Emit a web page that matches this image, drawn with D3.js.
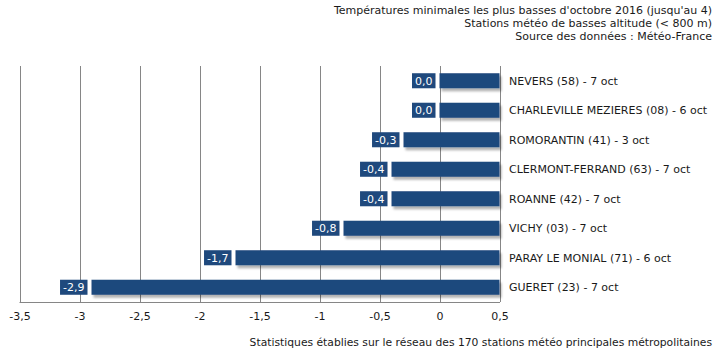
<!DOCTYPE html>
<html>
<head>
<meta charset="utf-8">
<script src="https://cdn.jsdelivr.net/npm/d3@7"></script>
<style>
  body { margin: 0; background: #fff; }
  text { font-family: "DejaVu Sans", Verdana, sans-serif; }
</style>
</head>
<body>
<script>
// stations, ordered top to bottom
var stations = ["NEVERS (58) - 7 oct", "CHARLEVILLE MEZIERES (08) - 6 oct", "ROMORANTIN (41) - 3 oct",
  "CLERMONT-FERRAND (63) - 7 oct", "ROANNE (42) - 7 oct", "VICHY (03) - 7 oct",
  "PARAY LE MONIAL (71) - 6 oct", "GUERET (23) - 7 oct"];
var minTemps = [0.0, 0.0, -0.3, -0.4, -0.4, -0.8, -1.7, -2.9];
var xTicks = [-3.5, -3, -2.5, -2, -1.5, -1, -0.5, 0, 0.5];
var titleLines = ["Températures minimales les plus basses d'octobre 2016 (jusqu'au 4)",
  "Stations météo de basses altitude (< 800 m)", "Source des données : Météo-France"];
var footnote = "Statistiques établies sur le réseau des 170 stations météo principales métropolitaines";

var width = 715, height = 359;
var plot = {left: 19.5, right: 499.5, top: 66, bottom: 302};
var barColor = "#1f497d";

var fmt = function(v) { return (v % 1 === 0 ? String(v) : v.toFixed(1)).replace(".", ","); };
var fmtLabel = function(v) { return v.toFixed(1).replace(".", ","); };

var x = d3.scaleLinear().domain([-3.5, 0.5]).range([plot.left, plot.right]);
var y = d3.scaleBand().domain(stations).range([plot.top, plot.bottom]).paddingInner(0.49).paddingOuter(0.245);

var svg = d3.select("body").append("svg")
    .attr("width", width)
    .attr("height", height);

var defs = svg.append("defs");
var f = defs.append("filter").attr("id", "shadow")
    .attr("x", "-5%").attr("y", "-20%").attr("width", "115%").attr("height", "160%");
f.append("feDropShadow").attr("dx", 2).attr("dy", 3).attr("stdDeviation", 1.2)
    .attr("flood-color", "#000").attr("flood-opacity", 0.3);

// title
svg.append("g").selectAll("text")
    .data(titleLines)
    .enter().append("text")
    .attr("x", 712)
    .attr("y", function(d, i) { return 14 + i * 13; })
    .attr("text-anchor", "end")
    .attr("font-size", 11)
    .attr("fill", "#1a1a1a")
    .text(function(d) { return d; });

// grid lines
svg.append("g").selectAll("line")
    .data(xTicks)
    .enter().append("line")
    .attr("x1", function(d) { return Math.round(x(d)) + 0.5; })
    .attr("x2", function(d) { return Math.round(x(d)) + 0.5; })
    .attr("y1", plot.top)
    .attr("y2", plot.bottom)
    .attr("stroke", "#868686")
    .attr("stroke-width", 1);

// bottom axis
var xAxis = svg.append("g")
    .attr("transform", "translate(0," + (plot.bottom + 0.5) + ")")
    .call(d3.axisBottom(x).tickValues(xTicks).tickSize(0).tickPadding(10).tickFormat(fmt));
xAxis.select(".domain").attr("stroke", "#868686").attr("d", "M" + x(-3.5) + ",0H" + (x(0.5) + 0.5));
xAxis.selectAll("text")
    .attr("font-family", "DejaVu Sans, Verdana, sans-serif")
    .attr("font-size", 11)
    .attr("fill", "#1a1a1a");

// bars, from 0.5 down to the value
svg.append("g").selectAll("rect")
    .data(minTemps)
    .enter().append("rect")
    .attr("x", function(d) { return x(d); })
    .attr("y", function(d, i) { return y(stations[i]); })
    .attr("width", function(d) { return x(0.5) - x(d); })
    .attr("height", y.bandwidth())
    .attr("fill", barColor)
    .attr("filter", "url(#shadow)");

// value labels
var lab = svg.append("g").selectAll("g")
    .data(minTemps)
    .enter().append("g");
lab.append("text")
    .attr("x", function(d) { return x(d) - 7; })
    .attr("y", function(d, i) { return y(stations[i]) + y.bandwidth() / 2; })
    .attr("dy", "0.36em")
    .attr("text-anchor", "end")
    .attr("font-size", 11)
    .attr("fill", "#fff")
    .text(fmtLabel);
lab.each(function(d, i) {
  var g = d3.select(this);
  var b = g.select("text").node().getBBox();
  g.insert("rect", "text")
    .attr("x", b.x - 3)
    .attr("y", y(stations[i]))
    .attr("width", b.width + 6)
    .attr("height", y.bandwidth())
    .attr("fill", barColor);
});

// station names
svg.append("g").selectAll("text")
    .data(stations)
    .enter().append("text")
    .attr("x", 509)
    .attr("y", function(d) { return y(d) + y.bandwidth() / 2; })
    .attr("dy", "0.36em")
    .attr("font-size", 11)
    .attr("fill", "#1a1a1a")
    .text(function(d) { return d; });

// footnote
svg.append("text")
    .attr("x", 712)
    .attr("y", 346)
    .attr("text-anchor", "end")
    .attr("font-size", 10.75)
    .attr("fill", "#1a1a1a")
    .text(footnote);
</script>
</body>
</html>
